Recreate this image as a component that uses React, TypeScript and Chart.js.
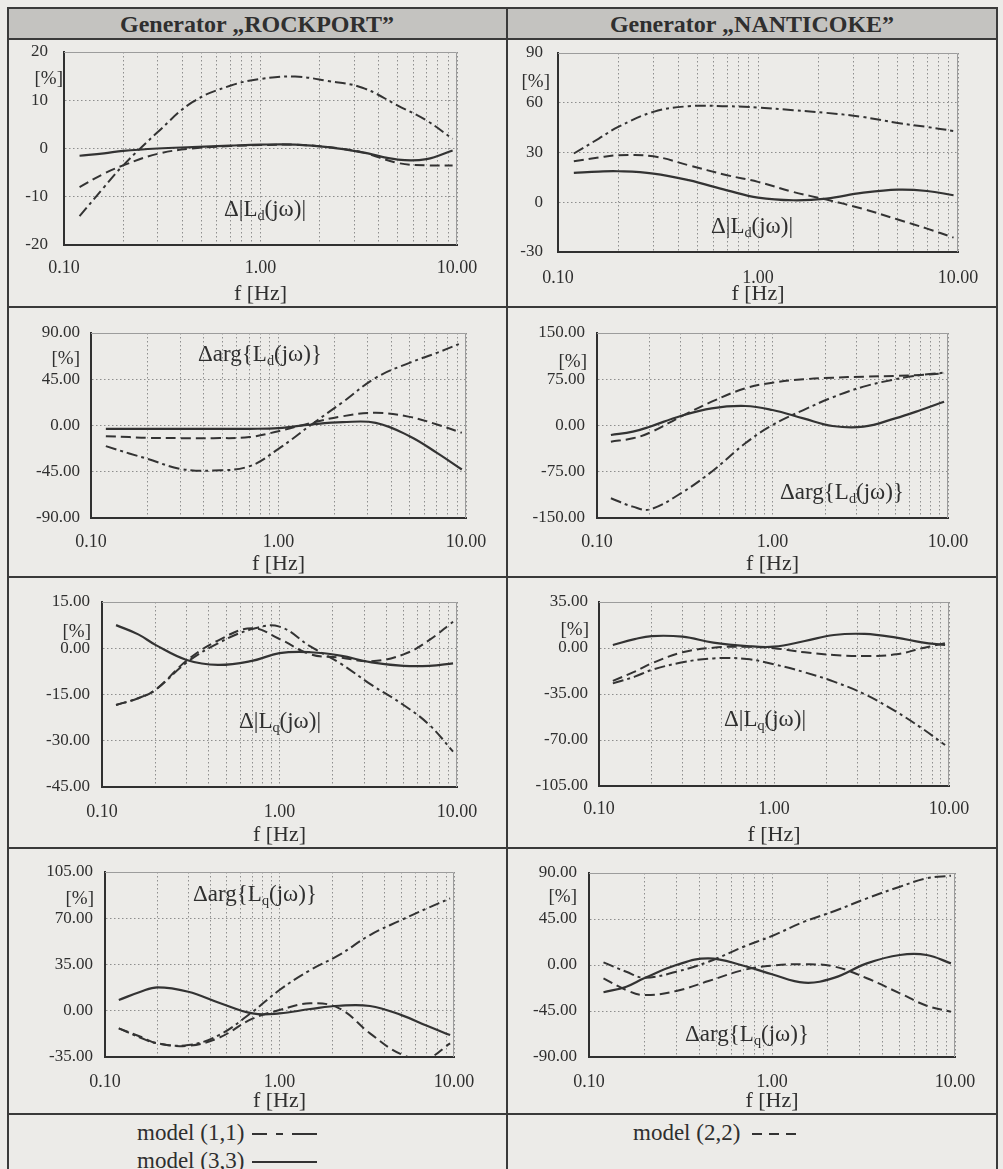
import React, { useEffect, useRef } from "react";
import { Chart, registerables } from "chart.js";

Chart.register(...registerables);

// ---------- data ----------
const FREQ = [0.12, 0.16, 0.2, 0.3, 0.45, 0.7, 1.0, 1.5, 2.2, 3.3, 5, 7, 9.5];

const X_GRID = [0.1, 0.2, 0.3, 0.4, 0.5, 0.6, 0.7, 0.8, 0.9, 1, 2, 3, 4, 5, 6, 7, 8, 9, 10];
const X_LABEL_VALUES = [0.1, 1, 10];
const X_TICK_LABELS = ["0.10", "1.00", "10.00"];

// ROCKPORT  Δ|Ld(jω)|
const ROCK_LD_MAG_Y = [20, 10, 0, -10, -20];
const ROCK_LD_MAG_M11 = [-14, -8, -3.5, 3.4, 9.6, 13, 14.4, 14.9, 14, 12.6, 8.9, 5.8, 2];
const ROCK_LD_MAG_M22 = [-8, -5.2, -3.5, -1.1, 0, 0.5, 0.7, 0.8, 0.3, -0.8, -3, -3.5, -3.5];
const ROCK_LD_MAG_M33 = [-1.5, -1, -0.5, 0, 0.3, 0.6, 0.8, 0.8, 0.3, -0.8, -2.3, -2.2, -0.4];

// NANTICOKE Δ|Ld(jω)|
const NANT_LD_MAG_Y = [90, 60, 30, 0, -30];
const NANT_LD_MAG_M11 = [29.4, 38.4, 45.4, 54.5, 57.9, 57.9, 57.1, 55.5, 53.9, 51.5, 47.8, 45.4, 43];
const NANT_LD_MAG_M22 = [24.7, 27, 28.3, 27.7, 22.3, 16.3, 12.3, 6.2, 1.6, -3.8, -10.4, -15.9, -21.3];
const NANT_LD_MAG_M33 = [17.7, 18.5, 18.7, 17.3, 13.3, 7.2, 2.8, 1.2, 2.2, 5.6, 7.6, 6.8, 4.2];

// ROCKPORT Δarg{Ld(jω)}
const ROCK_LD_ARG_Y = [90, 45, 0, -45, -90];
const ROCK_LD_ARG_M11 = [-20.1, -27.2, -32.4, -42.2, -43.8, -39.6, -22.7, 1, 22.7, 46.4, 61, 70.7, 80.4];
const ROCK_LD_ARG_M22 = [-10.4, -11.3, -12, -12.3, -12.3, -11.3, -5.5, 2.6, 9, 12.3, 8.4, 1, -7.1];
const ROCK_LD_ARG_M33 = [-3.2, -3.2, -3.2, -3.2, -3.2, -3.2, -2.6, 1, 3.2, 2.6, -10.4, -26.6, -42.8];

// NANTICOKE Δarg{Ld(jω)}
const NANT_LD_ARG_Y = [150, 75, 0, -75, -150];
const NANT_LD_ARG_M11 = [-118, -131.6, -136, -110, -74.9, -28.9, 0.8, 25, 45.7, 63, 74.9, 81.9, 85.6];
const NANT_LD_ARG_M22 = [-26.2, -20.8, -11.6, 14.3, 38.6, 60.3, 69.5, 74.9, 77.5, 79.2, 80.3, 81.9, 84.6];
const NANT_LD_ARG_M33 = [-15.4, -10, -1.9, 15.4, 27.8, 31.6, 25.1, 11.6, -0.8, -1.9, 11.6, 25.1, 38.6];

// ROCKPORT Δ|Lq(jω)|
const ROCK_LQ_MAG_Y = [15, 0, -15, -30, -45];
const ROCK_LQ_MAG_M11 = [-18.4, -16.2, -13.5, -4.6, 1.6, 6.2, 7, 0.5, -4.9, -11.9, -18.4, -24.9, -33.5];
const ROCK_LQ_MAG_M22 = [-18.4, -16.2, -13.5, -4, 2.5, 6.5, 3, -2, -3, -4.2, -2, 2.7, 8.6];
const ROCK_LQ_MAG_M33 = [7.5, 4.5, 1.1, -3.8, -5.4, -4.1, -1.6, -1.3, -2.4, -4.6, -5.7, -5.7, -4.9];

// NANTICOKE Δ|Lq(jω)|
const NANT_LQ_MAG_Y = [35, 0, -35, -70, -105];
const NANT_LQ_MAG_M11 = [-26.9, -21.8, -16.7, -10.9, -7.9, -8.4, -12.4, -18.5, -25.6, -35.2, -48.5, -61.1, -73.8];
const NANT_LQ_MAG_M22 = [-25, -18, -11.7, -3.3, 0.2, 1, -0.2, -3.3, -5.3, -6.1, -4.8, -0.2, 3.6];
const NANT_LQ_MAG_M33 = [2.3, 6.8, 9.1, 8.6, 4.1, 1.5, 1, 5.3, 9.9, 10.7, 7.9, 4.3, 2.3];

// ROCKPORT Δarg{Lq(jω)}
const ROCK_LQ_ARG_Y = [105, 70, 35, 0, -35];
const ROCK_LQ_ARG_M11 = [-13.3, -20.4, -24.7, -26, -18.4, -0.8, 15.7, 30.8, 42.2, 57.3, 68.7, 77.5, 85];
const ROCK_LQ_ARG_M22 = [-13.3, -19.7, -24.7, -26.5, -20.4, -6, 0.5, 5.6, 1.8, -17.1, -33, -36, -24.7];
const ROCK_LQ_ARG_M33 = [8.1, 14.4, 17.7, 14.4, 6.1, -2, -2, 1.3, 3.8, 3.6, -3.3, -11.4, -18.4];

// NANTICOKE Δarg{Lq(jω)}
const NANT_LQ_ARG_Y = [90, 45, 0, -45, -90];
const NANT_LQ_ARG_M11 = [2.6, -6.6, -12.4, -6.6, 3.2, 17.9, 28.4, 42.4, 52.8, 65.2, 76.6, 84.8, 87.4];
const NANT_LQ_ARG_M22 = [-13, -24.5, -29.4, -25.4, -15.7, -4.9, -0.7, 0.7, -1.6, -13, -27.7, -39.8, -45.7];
const NANT_LQ_ARG_M33 = [-26.7, -21.2, -13, 0, 6.5, -0.7, -9.1, -17.3, -12.4, 1.6, 9.8, 9.8, 1.6];

// ---------- styles ----------
const FONT = "'Liberation Serif', 'Times New Roman', serif";
const INK = "#2f2f2f";
const LINE_INK = "#333333";
const GRID = "#8e8e8e";
const AXIS = "#303030";
const FRAME = "#9c9c9c";
const BG = "#ecebe8";
const HEADER_BG = "#c4c3c0";
const RULE = "#3a3a3a";
const DASH_DOT = [11, 4, 3, 4];
const DASHED = [10, 5];

Chart.defaults.font.family = FONT;
Chart.defaults.color = INK;

type Panel = {
  key: string;
  cell: [number, number, number, number];
  plot: [number, number, number, number];
  yTicks: number[];
  yDec: number;
  m11: number[];
  m22: number[];
  m33: number[];
  xPad: number;
  yPad: number;
  kind: "mag" | "arg";
  sub: string;
  titlePos: [number, number];
  pctPos: [number, number];
};

const PANELS: Panel[] = [
  { key: "r1l", cell: [8, 39, 507, 307], plot: [64, 52, 457, 245], yTicks: ROCK_LD_MAG_Y, yDec: 0,
    m11: ROCK_LD_MAG_M11, m22: ROCK_LD_MAG_M22, m33: ROCK_LD_MAG_M33, xPad: 12, yPad: 16,
    kind: "mag", sub: "d", titlePos: [265, 210], pctPos: [63, 77] },
  { key: "r1r", cell: [507, 39, 997, 307], plot: [558, 53, 958, 252], yTicks: NANT_LD_MAG_Y, yDec: 0,
    m11: NANT_LD_MAG_M11, m22: NANT_LD_MAG_M22, m33: NANT_LD_MAG_M33, xPad: 15, yPad: 15,
    kind: "mag", sub: "d", titlePos: [752, 227], pctPos: [550, 80] },
  { key: "r2l", cell: [8, 307, 507, 577], plot: [91, 333, 466, 518], yTicks: ROCK_LD_ARG_Y, yDec: 2,
    m11: ROCK_LD_ARG_M11, m22: ROCK_LD_ARG_M22, m33: ROCK_LD_ARG_M33, xPad: 13, yPad: 11,
    kind: "arg", sub: "d", titlePos: [260, 355], pctPos: [80, 357] },
  { key: "r2r", cell: [507, 307, 997, 577], plot: [597, 333, 948, 518], yTicks: NANT_LD_ARG_Y, yDec: 2,
    m11: NANT_LD_ARG_M11, m22: NANT_LD_ARG_M22, m33: NANT_LD_ARG_M33, xPad: 13, yPad: 12,
    kind: "arg", sub: "d", titlePos: [842, 493], pctPos: [587, 360] },
  { key: "r3l", cell: [8, 577, 507, 848], plot: [102, 602, 457, 787], yTicks: ROCK_LQ_MAG_Y, yDec: 2,
    m11: ROCK_LQ_MAG_M11, m22: ROCK_LQ_MAG_M22, m33: ROCK_LQ_MAG_M33, xPad: 14, yPad: 12,
    kind: "mag", sub: "q", titlePos: [280, 722], pctPos: [91, 630] },
  { key: "r3r", cell: [507, 577, 997, 848], plot: [599, 602, 949, 786], yTicks: NANT_LQ_MAG_Y, yDec: 2,
    m11: NANT_LQ_MAG_M11, m22: NANT_LQ_MAG_M22, m33: NANT_LQ_MAG_M33, xPad: 12, yPad: 11,
    kind: "mag", sub: "q", titlePos: [765, 720], pctPos: [589, 628] },
  { key: "r4l", cell: [8, 848, 507, 1114], plot: [105, 872, 454, 1057], yTicks: ROCK_LQ_ARG_Y, yDec: 2,
    m11: ROCK_LQ_ARG_M11, m22: ROCK_LQ_ARG_M22, m33: ROCK_LQ_ARG_M33, xPad: 14, yPad: 12,
    kind: "arg", sub: "q", titlePos: [255, 895], pctPos: [94, 897] },
  { key: "r4r", cell: [507, 848, 997, 1114], plot: [589, 873, 955, 1057], yTicks: NANT_LQ_ARG_Y, yDec: 2,
    m11: NANT_LQ_ARG_M11, m22: NANT_LQ_ARG_M22, m33: NANT_LQ_ARG_M33, xPad: 14, yPad: 12,
    kind: "arg", sub: "q", titlePos: [747, 1035], pctPos: [577, 895] },
];

const framePlugin = {
  id: "frame",
  beforeDatasetsDraw(chart: any) {
    const { ctx, chartArea: a } = chart;
    ctx.save();
    ctx.strokeStyle = FRAME;
    ctx.lineWidth = 1;
    ctx.beginPath();
    ctx.moveTo(a.left, a.top + 0.5);
    ctx.lineTo(a.right - 0.5, a.top + 0.5);
    ctx.lineTo(a.right - 0.5, a.bottom);
    ctx.stroke();
    ctx.restore();
  },
};

function xLabel(v: number): string {
  const i = X_LABEL_VALUES.findIndex((t) => Math.abs(Math.log10(v) - Math.log10(t)) < 1e-6);
  return i >= 0 ? X_TICK_LABELS[i] : "";
}

function PanelChart({ p }: { p: Panel }) {
  const ref = useRef<HTMLCanvasElement>(null);
  const [x0, y0, x1, y1] = p.cell;
  const [L, T, R, B] = p.plot;
  const w = x1 - x0;
  const h = y1 - y0;

  useEffect(() => {
    const mk = (arr: number[], dash: number[], width: number) => ({
      data: FREQ.map((f, i) => ({ x: f, y: arr[i] })),
      borderColor: LINE_INK,
      borderWidth: width,
      borderDash: dash,
      pointRadius: 0,
      tension: 0.4,
      fill: false,
    });
    const yt = [...p.yTicks].sort((a, b) => a - b);
    const chart = new Chart(ref.current as HTMLCanvasElement, {
      type: "line",
      data: {
        datasets: [mk(p.m11, DASH_DOT, 2), mk(p.m22, DASHED, 2), mk(p.m33, [], 2.2)],
      },
      options: {
        animation: false,
        responsive: false,
        devicePixelRatio: 1,
        layout: { padding: { left: 0, top: T - y0, right: x1 - R, bottom: 0 } },
        plugins: { legend: { display: false }, tooltip: { enabled: false } },
        scales: {
          x: {
            type: "logarithmic",
            min: 0.1,
            max: 10,
            afterFit: (s: any) => {
              s.height = y1 - B;
              s.paddingLeft = 0;
              s.paddingRight = 0;
              s.paddingTop = 0;
              s.paddingBottom = 0;
            },
            afterBuildTicks: (s: any) => {
              s.ticks = X_GRID.map((v) => ({ value: v }));
            },
            ticks: {
              autoSkip: false,
              maxRotation: 0,
              minRotation: 0,
              padding: p.xPad,
              color: INK,
              font: { size: 18, family: FONT },
              callback: (v: any) => xLabel(Number(v)),
            },
            grid: { color: GRID, lineWidth: 1, drawTicks: false },
            border: { display: true, color: AXIS, width: 2, dash: [1.5, 2.5] },
            title: {
              display: true,
              text: "f [Hz]",
              color: INK,
              font: { size: 22, family: FONT },
              padding: { top: 0, bottom: 0 },
            },
          },
          y: {
            type: "linear",
            min: yt[0],
            max: yt[yt.length - 1],
            afterFit: (s: any) => {
              s.width = L - x0;
              s.paddingTop = 0;
              s.paddingBottom = 0;
              s.paddingLeft = 0;
              s.paddingRight = 0;
            },
            afterBuildTicks: (s: any) => {
              s.ticks = yt.map((v) => ({ value: v }));
            },
            ticks: {
              padding: p.yPad,
              color: INK,
              font: { size: 17, family: FONT },
              callback: (v: any) => Number(v).toFixed(p.yDec),
            },
            grid: { color: GRID, lineWidth: 1, drawTicks: false },
            border: { display: true, color: AXIS, width: 2, dash: [1.5, 2.5] },
          },
        },
      } as any,
      plugins: [framePlugin],
    });
    return () => chart.destroy();
  }, []);

  return (
    <canvas
      ref={ref}
      width={w}
      height={h}
      style={{ position: "absolute", left: x0, top: y0, width: w, height: h, display: "block" }}
    />
  );
}

const subStyle: React.CSSProperties = { fontSize: "0.62em", verticalAlign: "-0.28em" };

function PanelTitle({ p }: { p: Panel }) {
  const body =
    p.kind === "mag" ? (
      <>
        Δ|L<span style={subStyle}>{p.sub}</span>(jω)|
      </>
    ) : (
      <>
        Δarg{"{"}L<span style={subStyle}>{p.sub}</span>(jω){"}"}
      </>
    );
  return (
    <div
      style={{
        position: "absolute",
        left: p.titlePos[0],
        top: p.titlePos[1],
        transform: "translate(-50%, -50%)",
        whiteSpace: "nowrap",
        fontSize: 23,
        lineHeight: 1,
        color: INK,
      }}
    >
      {body}
    </div>
  );
}

function Pct({ p }: { p: Panel }) {
  return (
    <div
      style={{
        position: "absolute",
        left: p.pctPos[0],
        top: p.pctPos[1],
        transform: "translate(-100%, -50%)",
        whiteSpace: "nowrap",
        fontSize: 19,
        lineHeight: 1,
        color: INK,
      }}
    >
      [%]
    </div>
  );
}

function HLine({ y, x0, x1 }: { y: number; x0: number; x1: number }) {
  return <div style={{ position: "absolute", left: x0, top: y - 1, width: x1 - x0, height: 2, background: RULE }} />;
}
function VLine({ x, y0, y1 }: { x: number; y0: number; y1: number }) {
  return <div style={{ position: "absolute", left: x - 1, top: y0, width: 2, height: y1 - y0, background: RULE }} />;
}

const ROW_LINES = [8, 39, 307, 577, 848, 1114];
const COL_LINES = [8, 507, 997];

export default function App() {
  const textBase: React.CSSProperties = { position: "absolute", whiteSpace: "nowrap", color: INK, lineHeight: 1 };
  return (
    <div
      style={{
        position: "absolute",
        left: 0,
        top: 0,
        width: 1003,
        height: 1169,
        overflow: "hidden",
        background: BG,
        fontFamily: FONT,
      }}
    >
      <div style={{ position: "absolute", left: 8, top: 8, width: 989, height: 31, background: HEADER_BG }} />
      <div style={{ ...textBase, left: 257, top: 24, transform: "translate(-50%, -50%)", fontSize: 24, fontWeight: 700 }}>
        Generator „ROCKPORT”
      </div>
      <div style={{ ...textBase, left: 752, top: 24, transform: "translate(-50%, -50%)", fontSize: 24, fontWeight: 700 }}>
        Generator „NANTICOKE”
      </div>

      {PANELS.map((p) => (
        <PanelChart key={p.key} p={p} />
      ))}
      {PANELS.map((p) => (
        <PanelTitle key={"t" + p.key} p={p} />
      ))}
      {PANELS.map((p) => (
        <Pct key={"p" + p.key} p={p} />
      ))}

      {ROW_LINES.map((y) => (
        <HLine key={"h" + y} y={y} x0={7} x1={998} />
      ))}
      {COL_LINES.map((x) => (
        <VLine key={"v" + x} x={x} y0={7} y1={1169} />
      ))}

      {/* legend */}
      <div style={{ ...textBase, left: 137, top: 1132, transform: "translateY(-50%)", fontSize: 23 }}>model (1,1)</div>
      <div style={{ ...textBase, left: 137, top: 1160, transform: "translateY(-50%)", fontSize: 23 }}>model (3,3)</div>
      <div style={{ ...textBase, left: 633, top: 1132, transform: "translateY(-50%)", fontSize: 23 }}>model (2,2)</div>
      <svg style={{ position: "absolute", left: 0, top: 0 }} width={1003} height={1169}>
        <line x1={252} y1={1134} x2={317} y2={1134} stroke={LINE_INK} strokeWidth={2} strokeDasharray="15 9 7 9 25" />
        <line x1={252} y1={1162} x2={317} y2={1162} stroke={LINE_INK} strokeWidth={2} />
        <line x1={752} y1={1134} x2={802} y2={1134} stroke={LINE_INK} strokeWidth={2} strokeDasharray="10 7" />
      </svg>
    </div>
  );
}
